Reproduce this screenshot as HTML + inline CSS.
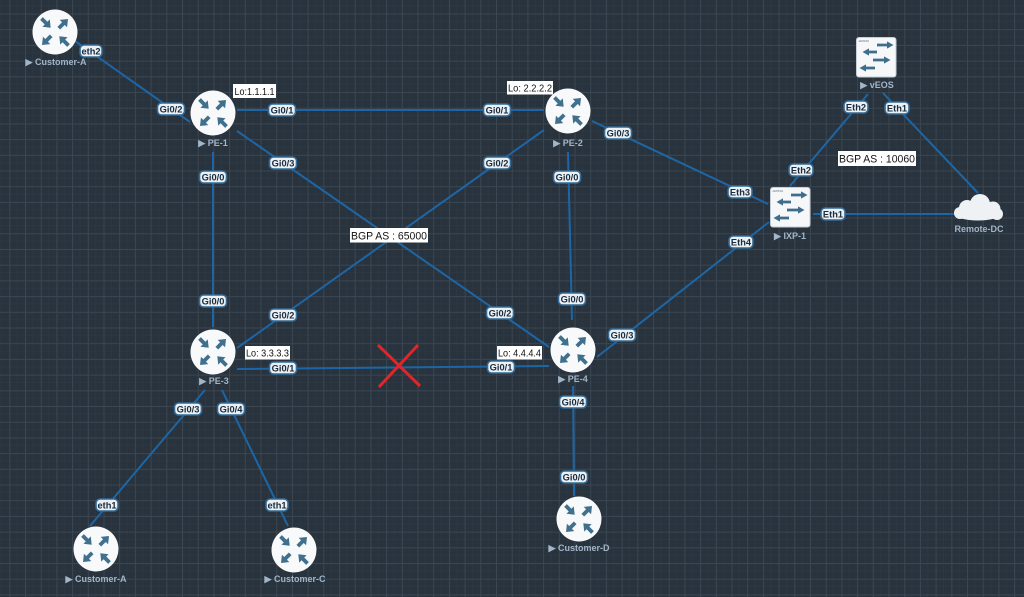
<!DOCTYPE html>
<html><head><meta charset="utf-8"><style>
html,body{margin:0;padding:0;background:#29333d;}
svg{display:block;}
text{font-family:"Liberation Sans",sans-serif;}
.pill rect{fill:#eaf1f6;stroke:#336a96;stroke-width:1.6;}
.pill text{font-size:9.3px;font-weight:bold;fill:#1c2b39;text-anchor:middle;}
.nl{font-size:9px;font-weight:bold;fill:#a2b6ca;text-anchor:middle;}
.lk{stroke:#1d66a6;stroke-width:2;fill:none;}
.wb rect{fill:#ffffff;}
.wb text{fill:#111;font-size:10px;}
</style></head><body>
<svg width="1024" height="597" viewBox="0 0 1024 597" xmlns="http://www.w3.org/2000/svg">
<defs>
<pattern id="grid" x="9.3" y="13.5" width="15.7" height="15.7" patternUnits="userSpaceOnUse">
<rect width="15.7" height="15.7" fill="#29333d"/>
<line x1="7.85" y1="0" x2="7.85" y2="15.7" stroke="#2d3741" stroke-width="1"/>
<line x1="0" y1="7.85" x2="15.7" y2="7.85" stroke="#2d3741" stroke-width="1"/>
<line x1="0.5" y1="0" x2="0.5" y2="15.7" stroke="#3a4651" stroke-width="1"/>
<line x1="0" y1="0.5" x2="15.7" y2="0.5" stroke="#3a4651" stroke-width="1"/>
</pattern>
<path id="arr" d="M0,-1.9 L6.5,-1.9 L6.5,-5.2 L13,0 L6.5,5.2 L6.5,1.9 L0,1.9 Z"/>
<g id="router">
<circle r="22.5" fill="#f7f9fa"/>
<g fill="#41708d">
<use href="#arr" transform="translate(-13.5,-13.5) rotate(45)"/>
<use href="#arr" transform="translate(3.8,-3.8) rotate(-45)"/>
<use href="#arr" transform="translate(-3.8,3.8) rotate(135)"/>
<use href="#arr" transform="translate(13.5,13.5) rotate(-135)"/>
</g>
</g>
<g id="sw">
<rect x="0.5" y="0.5" width="39.5" height="39.5" rx="2.5" fill="#f5f7f9" stroke="#c5ced6" stroke-width="1"/>
<text x="2.5" y="4.8" font-size="3" fill="#5a6a78">ARISTA</text>
<g fill="#3f6e8c">
<path d="M21,6.6 H31 V4.4 L37.5,8 L31,11.6 V9.4 H21 Z"/>
<path d="M21,13.6 H13 V11.4 L6.5,15 L13,18.6 V16.4 H21 Z"/>
<path d="M17,21.6 H28 V19.4 L34.5,23 L28,26.6 V24.4 H17 Z"/>
<path d="M19,29.6 H10 V27.4 L3.5,31 L10,34.6 V32.4 H19 Z"/>
</g>
</g>
</defs>

<rect width="1024" height="597" fill="url(#grid)"/>

<!-- links -->
<g class="lk">
<line x1="75" y1="41" x2="190" y2="122"/>
<line x1="237" y1="110" x2="544" y2="110"/>
<line x1="237" y1="131" x2="549" y2="347"/>
<line x1="213" y1="152" x2="213" y2="327"/>
<line x1="544" y1="130" x2="237" y2="348"/>
<line x1="568" y1="152" x2="572" y2="320"/>
<line x1="592" y1="121" x2="768" y2="204"/>
<line x1="237" y1="369" x2="549" y2="366"/>
<line x1="597" y1="357" x2="769" y2="222"/>
<line x1="573" y1="386" x2="574" y2="496"/>
<line x1="205" y1="390" x2="90" y2="526"/>
<line x1="222" y1="390" x2="288" y2="526"/>
<line x1="868" y1="94" x2="790" y2="186"/>
<line x1="883" y1="93" x2="978" y2="193"/>
<line x1="813" y1="214" x2="955" y2="214"/>
</g>

<!-- red X -->
<g stroke="#e0262a" stroke-width="3">
<line x1="378" y1="345" x2="420" y2="386"/>
<line x1="418" y1="345" x2="379" y2="387"/>
</g>

<!-- routers -->
<use href="#router" x="55" y="32"/>
<use href="#router" x="213" y="113"/>
<use href="#router" x="568" y="111"/>
<use href="#router" x="213" y="352"/>
<use href="#router" x="573" y="350"/>
<use href="#router" x="96" y="549"/>
<use href="#router" x="294" y="550"/>
<use href="#router" x="579" y="519"/>

<!-- switches -->
<use href="#sw" x="856" y="37"/>
<use href="#sw" x="770" y="187"/>

<!-- cloud -->
<g fill="#eef2f5">
<ellipse cx="978" cy="214" rx="23" ry="6.5"/>
<circle cx="967" cy="208" r="8"/>
<circle cx="980" cy="204" r="10"/>
<circle cx="993" cy="209" r="7.5"/>
<circle cx="960" cy="213" r="6"/>
<circle cx="997" cy="214" r="6"/>
</g>

<!-- node labels -->
<text class="nl" x="56" y="65">▶ Customer-A</text>
<text class="nl" x="213" y="146">▶ PE-1</text>
<text class="nl" x="568" y="146">▶ PE-2</text>
<text class="nl" x="214" y="384">▶ PE-3</text>
<text class="nl" x="573" y="382">▶ PE-4</text>
<text class="nl" x="96" y="582">▶ Customer-A</text>
<text class="nl" x="295" y="582">▶ Customer-C</text>
<text class="nl" x="579" y="551">▶ Customer-D</text>
<text class="nl" x="877" y="88">▶ vEOS</text>
<text class="nl" x="790" y="239">▶ IXP-1</text>
<text class="nl" x="979" y="232">Remote-DC</text>

<!-- port pills -->
<g class="pill">
<g transform="translate(91,51)"><rect x="-11" y="-6" width="22" height="12" rx="4"/><text y="3.3">eth2</text></g>
<g transform="translate(171,109)"><rect x="-13.5" y="-6" width="27" height="12" rx="4"/><text y="3.3">Gi0/2</text></g>
<g transform="translate(282,110)"><rect x="-13.5" y="-6" width="27" height="12" rx="4"/><text y="3.3">Gi0/1</text></g>
<g transform="translate(283,163)"><rect x="-13.5" y="-6" width="27" height="12" rx="4"/><text y="3.3">Gi0/3</text></g>
<g transform="translate(213,177)"><rect x="-13.5" y="-6" width="27" height="12" rx="4"/><text y="3.3">Gi0/0</text></g>
<g transform="translate(497,110)"><rect x="-13.5" y="-6" width="27" height="12" rx="4"/><text y="3.3">Gi0/1</text></g>
<g transform="translate(618,133)"><rect x="-13.5" y="-6" width="27" height="12" rx="4"/><text y="3.3">Gi0/3</text></g>
<g transform="translate(497,163)"><rect x="-13.5" y="-6" width="27" height="12" rx="4"/><text y="3.3">Gi0/2</text></g>
<g transform="translate(567,177)"><rect x="-13.5" y="-6" width="27" height="12" rx="4"/><text y="3.3">Gi0/0</text></g>
<g transform="translate(740,192)"><rect x="-12" y="-6" width="24" height="12" rx="4"/><text y="3.3">Eth3</text></g>
<g transform="translate(741,242)"><rect x="-12" y="-6" width="24" height="12" rx="4"/><text y="3.3">Eth4</text></g>
<g transform="translate(801,170)"><rect x="-12" y="-6" width="24" height="12" rx="4"/><text y="3.3">Eth2</text></g>
<g transform="translate(833,214)"><rect x="-12" y="-6" width="24" height="12" rx="4"/><text y="3.3">Eth1</text></g>
<g transform="translate(856,107)"><rect x="-12" y="-6" width="24" height="12" rx="4"/><text y="3.3">Eth2</text></g>
<g transform="translate(897,108)"><rect x="-12" y="-6" width="24" height="12" rx="4"/><text y="3.3">Eth1</text></g>
<g transform="translate(213,301)"><rect x="-13.5" y="-6" width="27" height="12" rx="4"/><text y="3.3">Gi0/0</text></g>
<g transform="translate(283,315)"><rect x="-13.5" y="-6" width="27" height="12" rx="4"/><text y="3.3">Gi0/2</text></g>
<g transform="translate(283,368)"><rect x="-13.5" y="-6" width="27" height="12" rx="4"/><text y="3.3">Gi0/1</text></g>
<g transform="translate(188,409)"><rect x="-13.5" y="-6" width="27" height="12" rx="4"/><text y="3.3">Gi0/3</text></g>
<g transform="translate(231,409)"><rect x="-13.5" y="-6" width="27" height="12" rx="4"/><text y="3.3">Gi0/4</text></g>
<g transform="translate(572,299)"><rect x="-13.5" y="-6" width="27" height="12" rx="4"/><text y="3.3">Gi0/0</text></g>
<g transform="translate(500,313)"><rect x="-13.5" y="-6" width="27" height="12" rx="4"/><text y="3.3">Gi0/2</text></g>
<g transform="translate(501,367)"><rect x="-13.5" y="-6" width="27" height="12" rx="4"/><text y="3.3">Gi0/1</text></g>
<g transform="translate(622,335)"><rect x="-13.5" y="-6" width="27" height="12" rx="4"/><text y="3.3">Gi0/3</text></g>
<g transform="translate(573,402)"><rect x="-13.5" y="-6" width="27" height="12" rx="4"/><text y="3.3">Gi0/4</text></g>
<g transform="translate(574,477)"><rect x="-13.5" y="-6" width="27" height="12" rx="4"/><text y="3.3">Gi0/0</text></g>
<g transform="translate(107,505)"><rect x="-11" y="-6" width="22" height="12" rx="4"/><text y="3.3">eth1</text></g>
<g transform="translate(277,505)"><rect x="-11" y="-6" width="22" height="12" rx="4"/><text y="3.3">eth1</text></g>
</g>

<!-- white annotation boxes -->
<g class="wb">
<rect x="233" y="84" width="43" height="14"/><text x="234.5" y="95" textLength="40" lengthAdjust="spacingAndGlyphs">Lo:1.1.1.1</text>
<rect x="507" y="81" width="46" height="13.5"/><text x="508" y="91.5" textLength="44" lengthAdjust="spacingAndGlyphs">Lo: 2.2.2.2</text>
<rect x="245" y="346" width="45" height="13.5"/><text x="246" y="356.5" textLength="43" lengthAdjust="spacingAndGlyphs">Lo: 3.3.3.3</text>
<rect x="497" y="346" width="45" height="13.5"/><text x="498" y="356.5" textLength="43" lengthAdjust="spacingAndGlyphs">Lo: 4.4.4.4</text>
<rect x="350" y="228" width="78" height="14.5"/><text x="351" y="239.5" textLength="76" lengthAdjust="spacingAndGlyphs" style="font-size:11px">BGP AS : 65000</text>
<rect x="838" y="151" width="78" height="15"/><text x="839" y="162.5" textLength="76" lengthAdjust="spacingAndGlyphs" style="font-size:11px">BGP AS : 10060</text>
</g>
</svg>
</body></html>
